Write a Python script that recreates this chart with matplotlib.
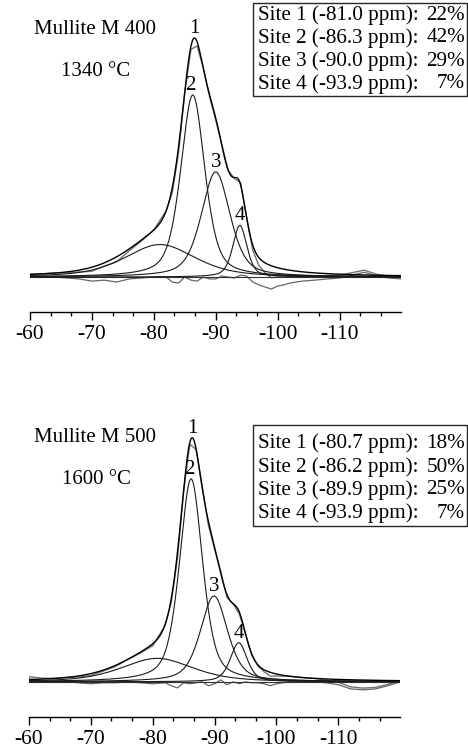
import numpy as np
import matplotlib
matplotlib.use("Agg")
import matplotlib.pyplot as plt
from matplotlib.patches import Rectangle
from matplotlib.ticker import FixedLocator

plt.rcParams['font.family'] = ['Liberation Serif', 'DejaVu Serif']

W, H = 468, 748

# Sample descriptions
samples = ["Mullite M 400", "Mullite M 500"]
temperatures = ["1340 °C", "1600 °C"]

# Fitted 29Si sites: chemical shift (ppm), relative area (%), line width (ppm FWHM)
shifts_m400 = [-81.0, -86.3, -90.0, -93.9]
areas_m400 = [22, 42, 29, 7]
fwhm_m400 = [13.5, 4.6, 5.5, 2.7]

shifts_m500 = [-80.7, -86.2, -89.9, -93.9]
areas_m500 = [18, 50, 25, 7]
fwhm_m500 = [13.7, 4.4, 5.2, 3.2]

# Residual (experiment - fit) in % of the envelope maximum
resid_ppm = [-60, -62, -64, -66, -68, -70, -72, -74, -76, -78, -80, -82, -83, -84,
             -85, -86, -87, -88, -89, -90, -91, -92, -93, -94, -95, -96, -97, -98,
             -99, -100, -101, -102, -104, -106, -108, -110, -112, -114, -116,
             -118, -120]
resid_m400 = [0, 0, 0, -0.4, -0.8, -1.7, -1.3, -2.1, -0.8, -0.4, 0, 0, -2.1, -2.5,
              0, -1.3, -1.7, 0, -0.8, -0.8, 0.4, 0, -0.4, 0.8, 0.4, -2.1, -3.3, -4.2,
              -5.0, -3.8, -3.3, -2.5, -1.7, -1.3, -0.8, -0.4, 0.8, 2.0, 0.4, -0.4,
              -0.8]
resid_m500 = [1.2, 0.4, 0, 0, -0.4, -0.8, -0.4, -0.4, 0, -0.4, -0.8, -0.4, -1.6, -2.5,
              -0.4, -0.8, -0.4, 0, -1.6, -0.8, 0.8, -1.2, 0, -0.8, 0, -0.4, -0.4, -0.8,
              -1.6, -0.8, -0.4, 0, 0, 0, -0.4, -1.2, -2.9, -3.3, -2.9, -1.6, 0]

# Axis tick positions (ppm)
major_ticks = [-60, -70, -80, -90, -100, -110]
tick_labels = ["-60", "-70", "-80", "-90", "-100", "-110"]
minor_ticks = [-60 - 10 * k / 3 for k in range(1, 18) if k % 3 != 0]

ETA = 0.5  # Lorentzian fraction of the pseudo-Voigt line shape


def pseudo_voigt(x, center, area, fwhm):
    shape_area = fwhm * (ETA * np.pi / 2 + (1 - ETA) * np.sqrt(np.pi / (4 * np.log(2))))
    h = area / shape_area
    u = (x - center) / fwhm
    g = np.exp(-4 * np.log(2) * u ** 2)
    lor = 1.0 / (1.0 + 4 * u ** 2)
    return h * (ETA * lor + (1 - ETA) * g)


panels = [
    dict(shifts=shifts_m400, areas=areas_m400, fwhm=fwhm_m400, resid=resid_m400,
         rect=[30 / W, 1 - 311.7 / H, 371.4 / W, 311.7 / H], ylim=(-14.5, 115.9),
         title=samples[0], temp=temperatures[0], title_y=30, temp_y=71,
         box=(253, 3, 466.5, 96), rows=[15, 38, 61, 84]),
    dict(shifts=shifts_m500, areas=areas_m500, fwhm=fwhm_m500, resid=resid_m500,
         rect=[29 / W, 1 - 716.7 / H, 371.2 / W, 336.7 / H], ylim=(-14.3, 123.7),
         title=samples[1], temp=temperatures[1], title_y=437, temp_y=479,
         box=(253, 425, 466.5, 526), rows=[443, 467, 490, 513]),
]

fig = plt.figure(figsize=(W / 100, H / 100), dpi=100)

x = np.linspace(-60, -120, 1201)
xr = np.array(resid_ppm, dtype=float)

for p in panels:
    ax = fig.add_axes(p["rect"])
    comps = [pseudo_voigt(x, c, a, w) for c, a, w in zip(p["shifts"], p["areas"], p["fwhm"])]
    total = np.sum(comps, axis=0)
    scale = 100.0 / total.max()
    comps = [c * scale for c in comps]
    total = total * scale

    # experimental spectrum = fit + residual at the sampled shifts
    comps_r = [pseudo_voigt(xr, c, a, w) for c, a, w in zip(p["shifts"], p["areas"], p["fwhm"])]
    total_r = np.sum(comps_r, axis=0) * scale
    resid = np.array(p["resid"])
    ax.plot(xr, total_r + resid, color="0.45", lw=1.0)
    ax.plot(xr, resid, color="0.4", lw=0.9)
    ax.axhline(0, color="0.2", lw=0.8)

    for c in comps:
        ax.plot(x, c, color="0.1", lw=0.8)
    ax.plot(x, total, color="black", lw=1.0)

    # peak numbering
    imax = np.argmax(total)
    ax.annotate("1", (x[imax], total[imax]), xytext=(0, 3.5), textcoords="offset points",
                ha="center", va="baseline", fontsize=15)
    for k in (1, 2, 3):
        i = np.argmax(comps[k])
        dx = -1.5 if k == 1 else 0
        ax.annotate(str(k + 1), (x[i], comps[k][i]), xytext=(dx, 3.5),
                    textcoords="offset points", ha="center", va="baseline", fontsize=15)

    ax.set_xlim(-60, -120)
    ax.set_ylim(*p["ylim"])
    for s in ("top", "left", "right"):
        ax.spines[s].set_visible(False)
    ax.spines["bottom"].set_linewidth(1.0)
    ax.set_yticks([])
    ax.xaxis.set_major_locator(FixedLocator(major_ticks))
    ax.set_xticklabels(tick_labels)
    ax.xaxis.set_minor_locator(FixedLocator(minor_ticks))
    ax.tick_params(axis="x", which="major", direction="out", length=5.5, width=1.0,
                   labelsize=15.5, pad=4)
    ax.tick_params(axis="x", which="minor", direction="out", length=3.0, width=1.0)
    ax.patch.set_visible(False)

    # sample labels
    fig.text(95 / W, 1 - p["title_y"] / H, p["title"], ha="center", va="center", fontsize=15)
    fig.text(96 / W, 1 - p["temp_y"] / H, p["temp"], ha="center", va="center", fontsize=15)

    # site table
    x0, y0, x1, y1 = p["box"]
    fig.patches.append(Rectangle((x0 / W, 1 - y1 / H), (x1 - x0) / W, (y1 - y0) / H,
                                 transform=fig.transFigure, fill=False,
                                 edgecolor="0.15", lw=1.0))
    for k, ry in enumerate(p["rows"]):
        fig.text(258 / W, 1 - ry / H, f"Site {k + 1} ({p['shifts'][k]:.1f} ppm):",
                 ha="left", va="center", fontsize=15.2)
        fig.text(465 / W, 1 - ry / H, f"{p['areas'][k]}%", ha="right", va="center",
                 fontsize=15.2)

fig.savefig("out.png", dpi=100)
